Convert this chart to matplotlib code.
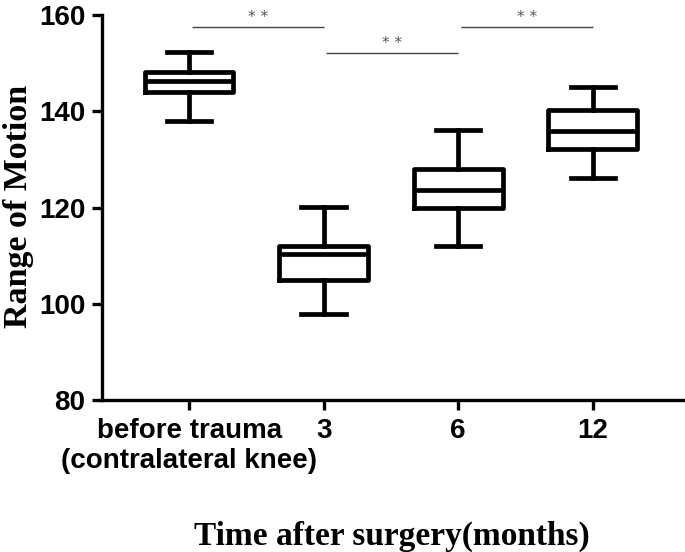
import matplotlib
matplotlib.use("Agg")
import matplotlib.pyplot as plt

categories = ["before trauma\n(contralateral knee)", "3", "6", "12"]
whisker_low = [138.0, 97.8, 112.0, 126.2]
q1 = [144.0, 104.9, 120.0, 132.1]
median = [146.3, 110.3, 123.6, 135.8]
q3 = [148.2, 112.0, 128.1, 140.2]
whisker_high = [152.3, 120.1, 136.2, 145.1]

sig_pairs = [(1, 2), (2, 3), (3, 4)]
sig_heights = [157.5, 152.1, 157.5]
sig_labels = ["* *", "* *", "* *"]

fig = plt.figure(figsize=(6.85, 5.52), dpi=100)
ax = fig.add_axes([102/685, (552-400)/552, (683-102)/685, (400-15)/552])

stats = []
for i in range(len(categories)):
    stats.append(dict(med=median[i], q1=q1[i], q3=q3[i],
                      whislo=whisker_low[i], whishi=whisker_high[i], fliers=[]))

lw = 3.4
ax.bxp(stats, positions=range(1, len(categories) + 1), widths=0.66,
       showfliers=False, showcaps=True,
       boxprops=dict(color="black", linewidth=lw),
       medianprops=dict(color="black", linewidth=lw, solid_capstyle="butt"),
       whiskerprops=dict(color="black", linewidth=lw),
       capprops=dict(color="black", linewidth=lw),
       capwidths=0.33)

for (a, b), h, lab in zip(sig_pairs, sig_heights, sig_labels):
    ax.plot([a + 0.02, b], [h, h], color="#444444", linewidth=1.0, solid_capstyle="butt")
    ax.text((a + 0.02 + b) / 2, h + 0.4, lab, ha="center", va="bottom",
            fontsize=11, color="#555555", family="DejaVu Sans")

ax.set_ylim(80, 160)
ax.set_xlim(0.353, 4.67)
ax.set_yticks([80, 100, 120, 140, 160])
ax.set_xticks(range(1, len(categories) + 1))
ax.set_xticklabels(categories)

for side in ["top", "right"]:
    ax.spines[side].set_visible(False)
for side in ["left", "bottom"]:
    ax.spines[side].set_linewidth(2.4)

ax.tick_params(axis="both", width=2.4, length=7, direction="out")
for lab in ax.get_yticklabels() + ax.get_xticklabels():
    lab.set_fontfamily("Liberation Sans")
    lab.set_fontweight("bold")
    lab.set_fontsize(20)
ax.tick_params(axis="y", pad=5)
ax.tick_params(axis="x", pad=6)

ax.set_ylabel("Range of Motion", family="Liberation Serif", fontweight="bold", fontsize=24.5)
ax.yaxis.set_label_coords(-(102 - 19) / 581, (400 - 206) / 385)
ax.yaxis.label.set_va("center")
fig.text(392 / 685, (552 - 545) / 552, "Time after surgery(months)", family="Liberation Serif",
         fontweight="bold", fontsize=24, ha="center", va="baseline")

fig.savefig("out.png", dpi=100)
